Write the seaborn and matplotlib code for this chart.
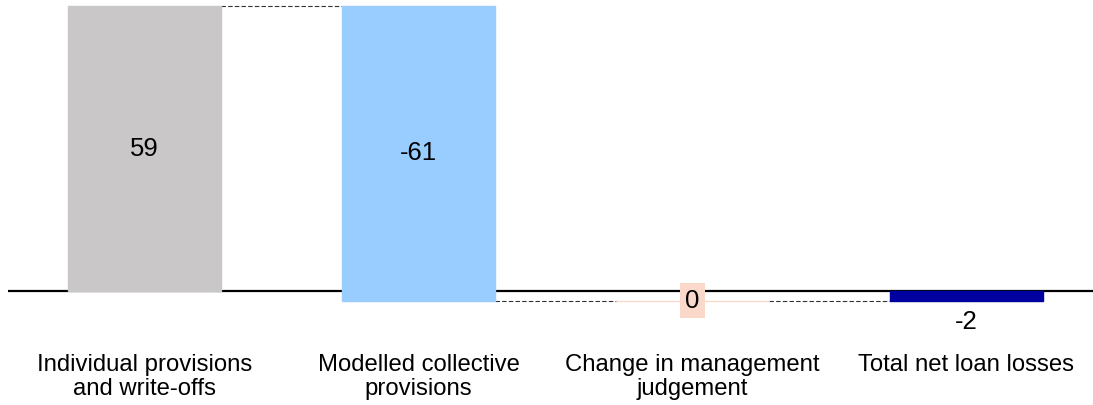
import matplotlib
matplotlib.use("Agg")
import matplotlib.pyplot as plt
import seaborn as sns
import numpy as np

sns.set_theme(style="white")
plt.rcParams["font.family"] = ["Liberation Sans", "DejaVu Sans"]

# Waterfall of net loan losses
categories = [
    "Individual provisions\nand write-offs",
    "Modelled collective\nprovisions",
    "Change in management\njudgement",
    "Total net loan losses",
]
values = [59, -61, 0, -2]
is_total = [False, False, False, True]
colors = ["#C9C7C8", "#99CCFF", "#FAD9CA", "#0000A0"]

# Floating bar bottoms: running sum for steps, zero for the total
bottoms = []
running = 0
for v, tot in zip(values, is_total):
    if tot:
        bottoms.append(0)
    else:
        bottoms.append(running)
        running += v
tops = [b + v for b, v in zip(bottoms, values)]

fig = plt.figure(figsize=(10.93, 4.05), dpi=100)
ax = fig.add_axes([7.5 / 1093, 75 / 405, 1 - 7.5 / 1093, 330 / 405])

bar_width = 0.56
sns.barplot(x=categories, y=values, hue=categories, palette=colors,
            order=categories, hue_order=categories, width=bar_width,
            legend=False, ax=ax, zorder=2, saturation=1)

for patch, b, c in zip(ax.patches, bottoms, colors):
    patch.set_y(b)
    patch.set_edgecolor(c)
    patch.set_linewidth(1.0)

ax.set_xlim(-0.5, (1093 - 144.5) / 274)
ax.set_ylim(-8.07, 60.24)

# Zero baseline
ax.axhline(0, color="black", linewidth=1.6, zorder=1)

# Connectors between consecutive bars
for i in range(len(values) - 1):
    level = tops[i]
    ax.plot([i + bar_width / 2, i + 1 - bar_width / 2], [level, level],
            color="#333333", linewidth=0.8, linestyle=(0, (4, 2)), zorder=1)

# Value labels
label_fs = 18.5
for i, (v, b, t) in enumerate(zip(values, bottoms, tops)):
    if is_total[i]:
        ax.text(i, t - 4.5, f"{v}", ha="center", va="center",
                fontsize=label_fs, color="black", zorder=4)
    elif v == 0:
        ax.text(i, t, f"{v}", ha="center", va="center", fontsize=label_fs,
                color="black", zorder=4,
                bbox=dict(boxstyle="square,pad=0.22", facecolor=colors[i],
                          edgecolor="none"))
    else:
        ax.text(i, (b + t) / 2, f"{v}", ha="center", va="center",
                fontsize=label_fs, color="black", zorder=4)

ax.set_xlabel("")
ax.set_ylabel("")
ax.set_yticks([])
ax.tick_params(axis="x", length=0, pad=17, labelsize=17.2, labelcolor="black")
for lab in ax.get_xticklabels():
    lab.set_linespacing(1.12)
for s in ax.spines.values():
    s.set_visible(False)

fig.savefig("out.png", dpi=100)
